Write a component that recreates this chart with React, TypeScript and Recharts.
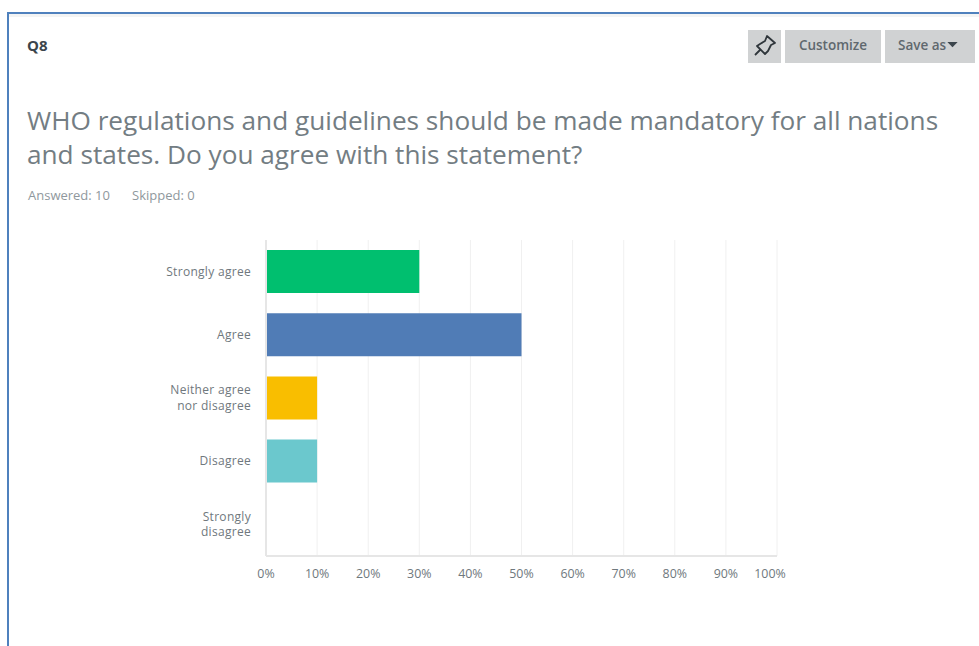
import { BarChart, Bar, Cell, XAxis, YAxis, CartesianGrid } from 'recharts'

const categories = ['Strongly agree', 'Agree', 'Neither agree nor disagree', 'Disagree', 'Strongly disagree']
const percents = [30, 50, 10, 10, 0]
const barColors = ['#00bf6f', '#507cb6', '#f9be00', '#6bc8cd', '#7d8ec4']
const xTicks = [0, 10, 20, 30, 40, 50, 60, 70, 80, 90, 100]
const wrappedLabels: Record<string, string[]> = {
  'Neither agree nor disagree': ['Neither agree', 'nor disagree'],
  'Strongly disagree': ['Strongly', 'disagree'],
}

const data = categories.map((name, i) => ({ name, percent: percents[i] }))

const font = '"Open Sans", sans-serif'

function CategoryTick({ x, y, payload }: any) {
  const lines = wrappedLabels[payload.value] ?? [payload.value]
  const startY = y + 4 - ((lines.length - 1) * 15.5) / 2
  return (
    <text x={x - 7} y={startY} textAnchor="end" fontFamily={font} fontSize={12} letterSpacing={0.3} fill="#6f787d">
      {lines.map((line, i) => (
        <tspan key={line} x={x - 7} dy={i === 0 ? 0 : 15.5}>
          {line}
        </tspan>
      ))}
    </text>
  )
}

function PercentTick({ x, y, payload }: any) {
  // the last label sits a little left of its gridline in the original
  const shift = payload.value === 100 ? -7 : 0
  return (
    <text x={x + shift} y={y + 14} textAnchor="middle" fontFamily={font} fontSize={12.4} fill="#6f787d">
      {payload.value}%
    </text>
  )
}

const buttonText = {
  color: '#5f686e',
  fontFamily: font,
  fontSize: 13.5,
  fontWeight: 600,
  lineHeight: '31px',
} as const

export default function App() {
  return (
    <div style={{ position: 'fixed', left: 0, top: 0, width: 979, height: 646, overflow: 'hidden', background: '#fff' }}>
      <div style={{ position: 'absolute', left: 7, top: 12, right: -4, bottom: -4, borderLeft: '2px solid #4f81bd', borderTop: '2px solid #4f81bd' }} />
      <div style={{ position: 'absolute', left: 9, top: 14, right: 0, height: 3, background: '#f3f4f4' }} />

      <div style={{ position: 'absolute', left: 27, top: 35, fontFamily: font, fontSize: 15, fontWeight: 700, color: '#3b454c' }}>Q8</div>

      <div style={{ position: 'absolute', left: 748, top: 30, width: 33, height: 33, background: '#d0d2d3' }}>
        <svg width={33} height={33} viewBox="0 0 33 33">
          <path
            d="M19 6 L27 13 L23 15 L20 21 L17 24 L9 16 L12 14 L17 11 Z M12 20 L7 25"
            fill="none"
            stroke="#2f363b"
            strokeWidth={1.8}
            strokeLinejoin="round"
          />
        </svg>
      </div>
      <div style={{ ...buttonText, position: 'absolute', left: 785, top: 30, width: 96, height: 33, background: '#d0d2d3', textAlign: 'center' }}>
        Customize
      </div>
      <div style={{ ...buttonText, position: 'absolute', left: 885, top: 30, width: 90, height: 33, background: '#d0d2d3', paddingLeft: 13, boxSizing: 'border-box', whiteSpace: 'nowrap' }}>
        Save as
        <svg width={11} height={6} viewBox="0 0 12 7" style={{ marginLeft: 1, verticalAlign: 2 }}>
          <path d="M0 0 L12 0 L6 6 Z" fill="#3b454c" />
        </svg>
      </div>

      <div
        style={{
          position: 'absolute',
          left: 27,
          top: 103,
          width: 940,
          fontFamily: font,
          fontSize: 26.2,
          lineHeight: '34px',
          color: '#737d83',
          whiteSpace: 'nowrap',
        }}
      >
        WHO regulations and guidelines should be made mandatory for all nations
        <br />
        and states. Do you agree with this statement?
      </div>

      <div style={{ position: 'absolute', left: 28, top: 186, fontFamily: font, fontSize: 13, color: '#8f989d' }}>Answered: 10</div>
      <div style={{ position: 'absolute', left: 132, top: 186, fontFamily: font, fontSize: 13, color: '#8f989d' }}>Skipped: 0</div>

      <div style={{ position: 'absolute', left: 0, top: 0 }}>
        <BarChart
          width={979}
          height={646}
          data={data}
          layout="vertical"
          barSize={43}
          margin={{ top: 240, right: 202, bottom: 60, left: 166 }}
        >
          <CartesianGrid horizontal={false} stroke="#f0f0f0" />
          <XAxis
            type="number"
            domain={[0, 100]}
            ticks={xTicks}
            height={30}
            tick={<PercentTick />}
            tickLine={false}
            axisLine={{ stroke: '#e6e6e6', strokeWidth: 2 }}
            interval={0}
          />
          <YAxis
            type="category"
            dataKey="name"
            width={100}
            tick={<CategoryTick />}
            tickLine={false}
            axisLine={{ stroke: '#e6e6e6', strokeWidth: 2 }}
            interval={0}
          />
          <Bar dataKey="percent" isAnimationActive={false}>
            {categories.map((name, i) => (
              <Cell key={name} fill={barColors[i]} />
            ))}
          </Bar>
        </BarChart>
      </div>
    </div>
  )
}
